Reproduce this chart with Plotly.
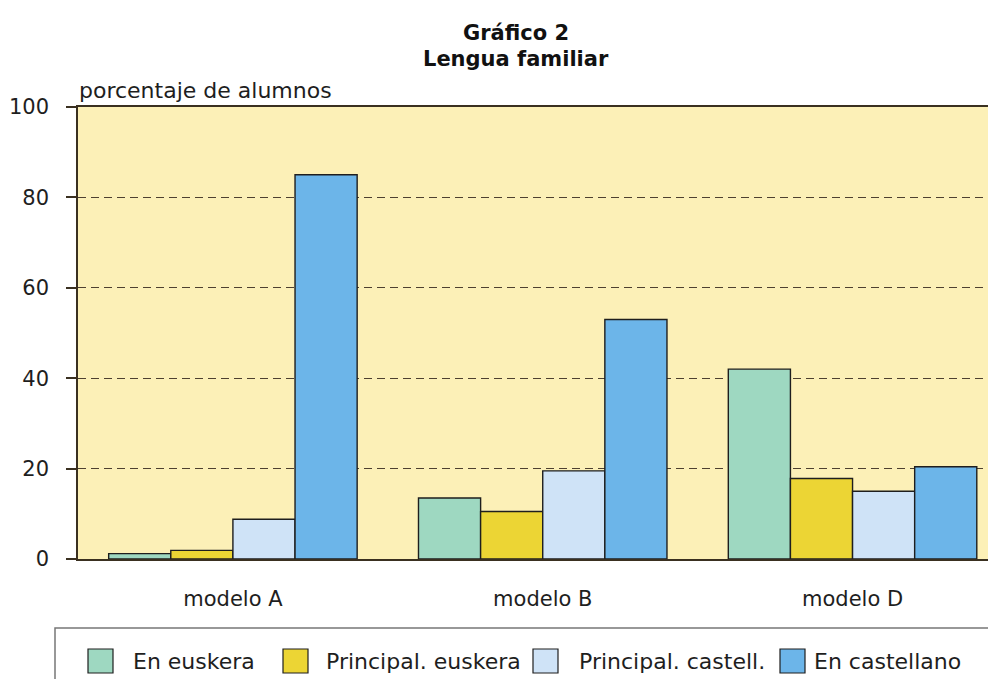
import plotly.graph_objects as go

# Categories and series (percent of students)
modelos = ["modelo A", "modelo B", "modelo D"]
en_euskera = [1.2, 13.5, 42]
principal_euskera = [1.9, 10.5, 17.8]
principal_castell = [8.8, 19.5, 15]
en_castellano = [85, 53, 20.4]

series_names = ["En euskera", "Principal. euskera", "Principal. castell.", "En castellano"]
series_values = [en_euskera, principal_euskera, principal_castell, en_castellano]
series_colors = ["#9ED8C1", "#ECD534", "#CFE3F7", "#6CB5E9"]

FONT = "DejaVu Sans, Liberation Sans, Arial, sans-serif"
INK = "#1e1e1e"
AXIS = "#3a3020"

# figure geometry (page has an 8px body margin)
W, H = 988, 671
L, T, B = 70, 99, 120
PW, PH = W - L, H - T - B


def paper_x(px):
    return (px - 8 - L) / PW


def paper_y(py):
    return 1 - (py - 8 - T) / PH


fig = go.Figure()
for name, vals, color in zip(series_names, series_values, series_colors):
    fig.add_trace(go.Bar(
        x=modelos, y=vals, name=name,
        marker=dict(color=color, line=dict(color=INK, width=1.4)),
    ))

fig.update_layout(
    width=W, height=H,
    barmode="group", bargap=0.198, bargroupgap=0,
    paper_bgcolor="white", plot_bgcolor="#FCF0B7",
    margin=dict(l=L, r=0, t=T, b=B, pad=0),
    font=dict(family=FONT, size=21, color=INK),
    showlegend=False,
)

fig.update_yaxes(
    range=[0, 100], tickvals=[0, 20, 40, 60, 80, 100],
    showgrid=True, gridcolor="#4e4030", griddash="8px,5px", gridwidth=1.3,
    zeroline=False, showline=True, linecolor=AXIS, linewidth=1.5,
    ticks="outside", ticklen=10, tickcolor=AXIS, tickwidth=1.5,
    ticklabelstandoff=13,
    tickfont=dict(family=FONT, size=21, color=INK),
)
fig.update_xaxes(
    range=[-0.5, 2.463],
    showline=True, mirror=True, linecolor=AXIS, linewidth=1.5,
    ticks="", ticklabelstandoff=20,
    tickfont=dict(family=FONT, size=21, color=INK),
)

# title lines
fig.add_annotation(text="<b>Gráfico 2</b>", xref="paper", yref="paper",
                   x=paper_x(516), y=paper_y(33), xanchor="center", yanchor="middle",
                   showarrow=False, font=dict(family=FONT, size=21, color="#111"))
fig.add_annotation(text="<b>Lengua familiar</b>", xref="paper", yref="paper",
                   x=paper_x(516), y=paper_y(59), xanchor="center", yanchor="middle",
                   showarrow=False, font=dict(family=FONT, size=21, color="#111"))

# axis caption above the plot area
fig.add_annotation(text="porcentaje de alumnos", xref="paper", yref="paper",
                   x=paper_x(77), y=paper_y(91), xanchor="left", yanchor="middle",
                   showarrow=False, font=dict(family=FONT, size=22, color=INK))

# legend frame
fig.add_shape(type="rect", xref="paper", yref="paper",
              x0=paper_x(55), x1=paper_x(1010), y0=paper_y(720), y1=paper_y(628),
              line=dict(color="#777", width=1.5), fillcolor="rgba(0,0,0,0)")

# legend entries: swatch and label
swatch_left = [88, 283, 533, 780]
label_left = [131, 324, 577, 812]
for name, color, sx, tx in zip(series_names, series_colors, swatch_left, label_left):
    fig.add_shape(type="rect", xref="paper", yref="paper",
                  x0=paper_x(sx), x1=paper_x(sx + 25), y0=paper_y(673), y1=paper_y(649),
                  line=dict(color=INK, width=1.2), fillcolor=color)
    fig.add_annotation(text=name, xref="paper", yref="paper",
                       x=paper_x(tx), y=paper_y(661), xanchor="left", yanchor="middle",
                       showarrow=False, font=dict(family=FONT, size=22, color=INK))

fig.write_html("out.html")
